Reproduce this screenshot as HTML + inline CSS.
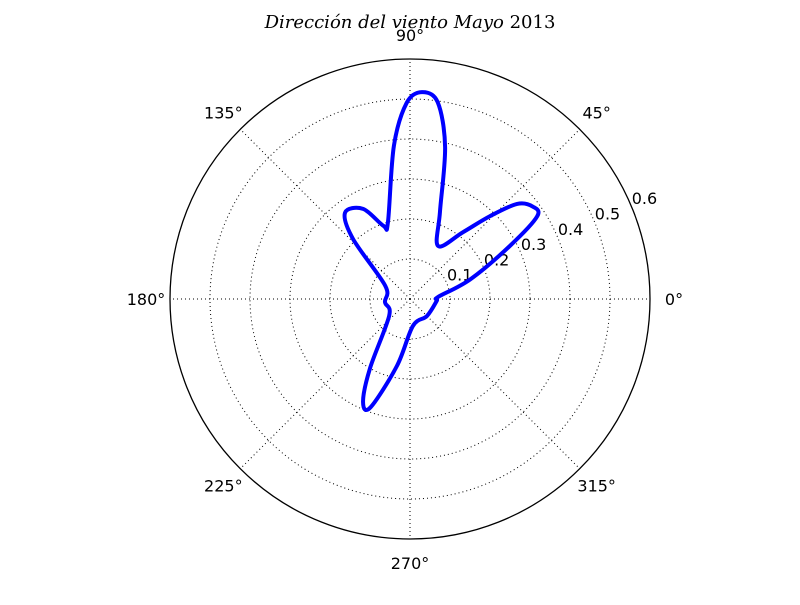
<!DOCTYPE html>
<html><head><meta charset="utf-8"><style>
body{margin:0;background:#fff;}
svg text{font-family:"DejaVu Sans","Liberation Sans",sans-serif;font-size:16px;fill:#000;}
</style></head><body>
<svg width="800" height="600" id="chart">
<rect width="800" height="600" fill="#fff"/>
<text x="410" y="28" text-anchor="middle" style="font-family:'DejaVu Serif','Liberation Serif',serif;font-size:18px;font-style:italic">Dirección del viento Mayo <tspan font-style="normal">2013</tspan></text>
<g id="grid"></g>
<g id="labels"></g>
<path id="curve" fill="none" stroke="#0000ff" stroke-width="4" stroke-linejoin="round"/>
<circle cx="410" cy="299" r="240" fill="none" stroke="#000" stroke-width="1.3"/>
</svg>
<script>
const angles=[4,18,28,33,37,41.6,46,51.6,62,71,77,82,86.7,91,96,106,110,117.5,127,133.5,152,187,219,240,245.5,250,259,276,315,356];
const radii=[0.07,0.158,0.283,0.379,0.384,0.358,0.288,0.213,0.15,0.23,0.39,0.497,0.518,0.49,0.385,0.2,0.195,0.254,0.27,0.207,0.07,0.063,0.067,0.2,0.283,0.288,0.17,0.068,0.06,0.067];
const rTicks=[0.1,0.2,0.3,0.4,0.5,0.6];
const thetaTicks=[0,45,90,135,180,225,270,315];
const cx=410,cy=299,R=240,rMax=0.6;
const ns="http://www.w3.org/2000/svg";
function rs(v){return v/rMax*R;}
function pt(a,r){const t=a*Math.PI/180;return [cx+rs(r)*Math.cos(t),cy-rs(r)*Math.sin(t)];}
const grid=document.getElementById('grid'),labels=document.getElementById('labels');
rTicks.slice(0,-1).forEach(v=>{const c=document.createElementNS(ns,'circle');
c.setAttribute('cx',cx);c.setAttribute('cy',cy);c.setAttribute('r',rs(v));
c.setAttribute('fill','none');c.setAttribute('stroke','#000');c.setAttribute('stroke-width','1');c.setAttribute('stroke-dasharray','1,3');

grid.appendChild(c);});
thetaTicks.forEach(a=>{const p=pt(a,rMax);const l=document.createElementNS(ns,'line');
l.setAttribute('x1',cx);l.setAttribute('y1',cy);l.setAttribute('x2',p[0]);l.setAttribute('y2',p[1]);
l.setAttribute('stroke','#000');l.setAttribute('stroke-width','1');l.setAttribute('stroke-dasharray','1,3');

grid.appendChild(l);
const q=pt(a,rMax*1.1);const t=document.createElementNS(ns,'text');
t.setAttribute('x',q[0]);t.setAttribute('y',q[1]+6);t.setAttribute('text-anchor','middle');t.textContent=a+'°';

labels.appendChild(t);});
rTicks.forEach(v=>{const q=pt(22.5,v);const t=document.createElementNS(ns,'text');
t.setAttribute('x',q[0]);t.setAttribute('y',q[1]-3);t.setAttribute('text-anchor','start');t.textContent=v.toFixed(1);

labels.appendChild(t);});
const P=angles.map((a,i)=>pt(a,radii[i]));const n=P.length;
let d='M'+P[0][0]+','+P[0][1];
for(let i=0;i<n;i++){const p0=P[(i-1+n)%n],p1=P[i],p2=P[(i+1)%n],p3=P[(i+2)%n];
d+=' C'+(p1[0]+(p2[0]-p0[0])/6)+','+(p1[1]+(p2[1]-p0[1])/6)+' '+(p2[0]-(p3[0]-p1[0])/6)+','+(p2[1]-(p3[1]-p1[1])/6)+' '+p2[0]+','+p2[1];}
document.getElementById('curve').setAttribute('d',d+'Z');
</script>
</body></html>
